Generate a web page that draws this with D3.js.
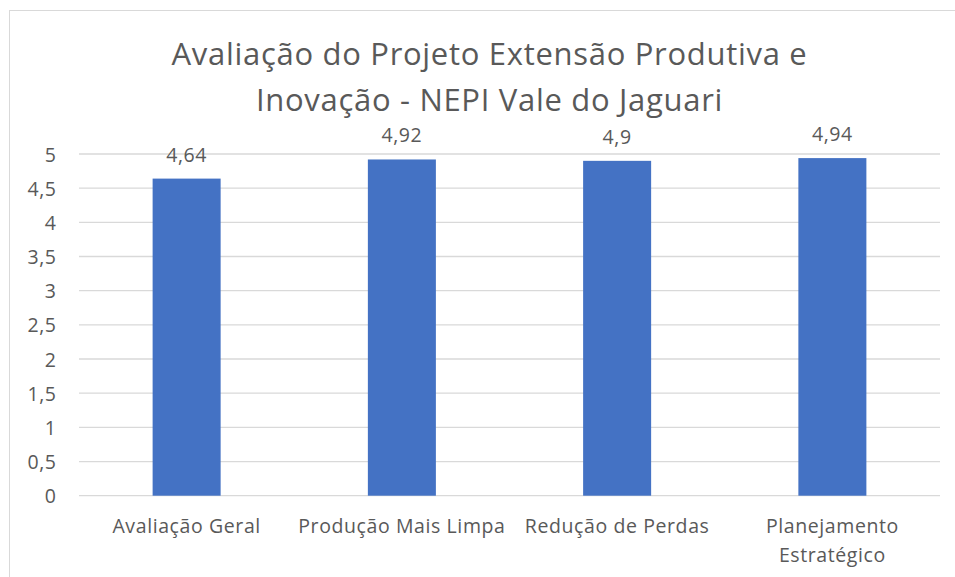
<!DOCTYPE html>
<html>
<head>
<meta charset="utf-8">
<script src="https://cdn.jsdelivr.net/npm/d3@7"></script>
<style>
  body { margin: 0; background: #fff; }
  svg text { font-family: "Open Sans", Lato, sans-serif; fill: #595959; }
</style>
</head>
<body>
<svg id="chart" width="955" height="577"></svg>
<script>
const categories = [["Avaliação Geral"], ["Produção Mais Limpa"], ["Redução de Perdas"], ["Planejamento", "Estratégico"]];
const values = [4.64, 4.92, 4.9, 4.94];
const yTicks = [0, 0.5, 1, 1.5, 2, 2.5, 3, 3.5, 4, 4.5, 5];
const titleLines = ["Avaliação do Projeto Extensão Produtiva e", "Inovação - NEPI Vale do Jaguari"];

const svg = d3.select("#chart");
const fmt = (v) => String(v).replace(".", ",");

svg.append("rect").attr("x", 9.5).attr("y", 10.5).attr("width", 960).attr("height", 600)
  .attr("fill", "#fff").attr("stroke", "#d9d9d9").attr("stroke-width", 1);

const x = d3.scaleBand().domain(d3.range(categories.length)).range([79, 940]).paddingInner(0.684).paddingOuter(0.342);
const y = d3.scaleLinear().domain([0, 5]).range([495.7, 154]);

svg.append("g").selectAll("line").data(yTicks).join("line")
  .attr("x1", 79).attr("x2", 940).attr("y1", (d) => y(d)).attr("y2", (d) => y(d))
  .attr("stroke", "#d9d9d9").attr("stroke-width", 1.3);

svg.append("g").selectAll("text").data(yTicks).join("text")
  .attr("x", 56.6).attr("y", (d) => y(d) + 7.5).attr("text-anchor", "end")
  .attr("font-size", 19.5).attr("letter-spacing", 0.6).text(fmt);

svg.append("g").selectAll("rect").data(values).join("rect")
  .attr("x", (_, i) => x(i)).attr("width", x.bandwidth())
  .attr("y", (d) => y(d)).attr("height", (d) => y(0) - y(d)).attr("fill", "#4472c4");

svg.append("g").selectAll("text").data(values).join("text")
  .attr("x", (_, i) => x(i) + x.bandwidth() / 2).attr("y", (d) => y(d) - 17)
  .attr("text-anchor", "middle").attr("font-size", 19.5).attr("letter-spacing", 0.6).text(fmt);

const cat = svg.append("g").selectAll("text").data(categories).join("text")
  .attr("text-anchor", "middle").attr("font-size", 19.5).attr("letter-spacing", 0.6)
  .attr("transform", (_, i) => `translate(${x(i) + x.bandwidth() / 2},533)`);
cat.selectAll("tspan").data((d) => d).join("tspan")
  .attr("x", 0).attr("y", (_, j) => j * 29).text((d) => d);

svg.append("g").selectAll("text").data(titleLines).join("text")
  .attr("x", 489.5).attr("y", (_, i) => 64.5 + i * 46.5).attr("text-anchor", "middle")
  .attr("font-size", 31).attr("letter-spacing", 0.7).text((d) => d);
</script>
</body>
</html>
